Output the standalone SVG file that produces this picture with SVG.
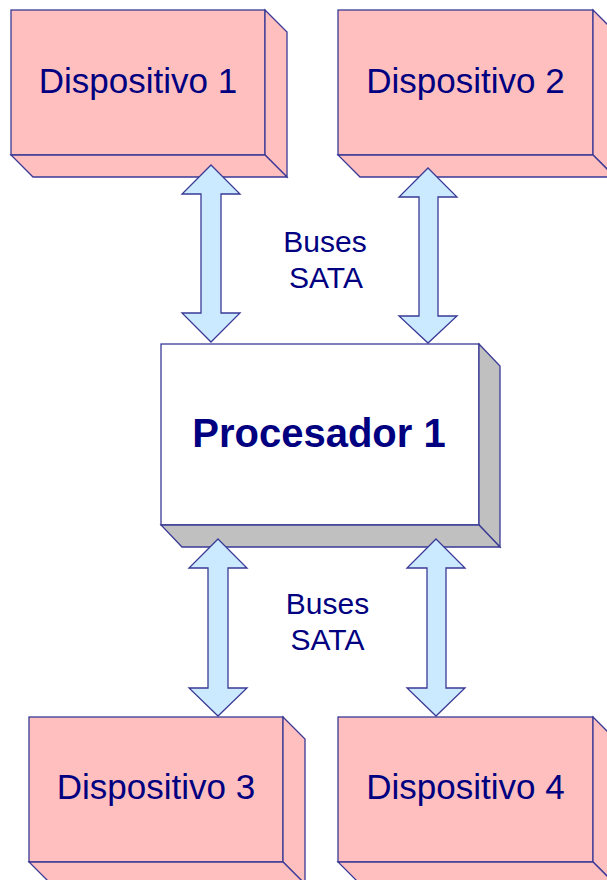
<svg xmlns="http://www.w3.org/2000/svg" width="607" height="880" viewBox="0 0 607 880">
<style>
.ln{stroke:#3a3a96;stroke-width:1.3;stroke-linejoin:miter}
.pink{fill:#ffbfbf}
.white{fill:#ffffff}
.gray{fill:#c0c0c0}
.arrow{fill:#cbeaff;stroke:#3a3a96;stroke-width:1.3}
.t{font-family:"Liberation Sans",Arial,sans-serif;fill:#000080;text-anchor:middle}
.dev{font-size:35px}
.proc{font-size:40px;font-weight:bold}
.bus{font-size:30px}
</style>
<rect width="607" height="880" fill="#ffffff"/>
<g id="dispositivo1">
<rect class="pink ln" x="11" y="10" width="254" height="145"/>
<polygon class="pink ln" points="265,10 287,32 287,177 265,155"/>
<polygon class="pink ln" points="11,155 265,155 287,177 33,177"/>
<text class="t dev" x="138" y="93">Dispositivo 1</text>
</g>
<g id="dispositivo2">
<rect class="pink ln" x="338" y="10" width="255" height="145"/>
<polygon class="pink ln" points="593,10 615,32 615,177 593,155"/>
<polygon class="pink ln" points="338,155 593,155 615,177 360,177"/>
<text class="t dev" x="465.5" y="93">Dispositivo 2</text>
</g>
<g id="procesador1">
<rect class="white ln" x="161" y="344" width="318" height="181"/>
<polygon class="gray ln" points="479,344 500,366 500,547 479,525"/>
<polygon class="gray ln" points="161,525 479,525 500,547 182,547"/>
<text class="t proc" x="319" y="447">Procesador 1</text>
</g>
<g id="dispositivo3">
<rect class="pink ln" x="29" y="717" width="254" height="145"/>
<polygon class="pink ln" points="283,717 305,739 305,884 283,862"/>
<polygon class="pink ln" points="29,862 283,862 305,884 51,884"/>
<text class="t dev" x="156" y="799">Dispositivo 3</text>
</g>
<g id="dispositivo4">
<rect class="pink ln" x="338" y="717" width="255" height="145"/>
<polygon class="pink ln" points="593,717 615,739 615,884 593,862"/>
<polygon class="pink ln" points="338,862 593,862 615,884 360,884"/>
<text class="t dev" x="465.5" y="799">Dispositivo 4</text>
</g>
<g id="connectors">
<polygon class="arrow" points="211,165 240,194 221,194 221,313 240,313 211,342 182,313 201,313 201,194 182,194"/>
<polygon class="arrow" points="428,168 457,197 438,197 438,316 457,316 428,343 399,316 419,316 419,197 399,197"/>
<polygon class="arrow" points="218,539 247,568 228,568 228,688 247,688 218,716 189,688 208,688 208,568 189,568"/>
<polygon class="arrow" points="436,539 465,568 446,568 446,688 465,688 436,716 407,688 427,688 427,568 407,568"/>
</g>
<g id="labels">
<text class="t bus" x="325" y="252">Buses</text>
<text class="t bus" x="326" y="288">SATA</text>
<text class="t bus" x="327.5" y="614">Buses</text>
<text class="t bus" x="327.5" y="650">SATA</text>
</g>
</svg>
